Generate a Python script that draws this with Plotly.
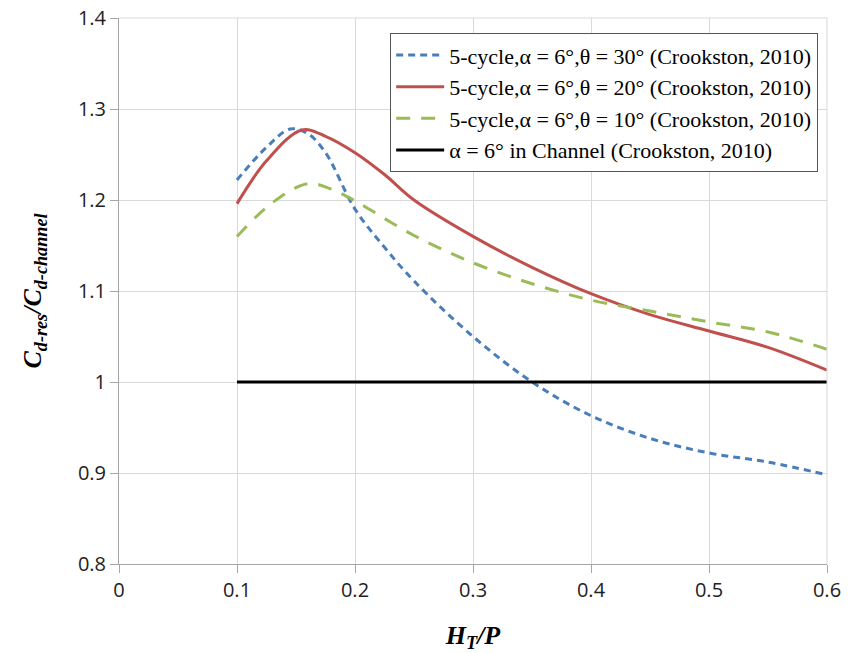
import plotly.graph_objects as go

x30 = [0.10, 0.125, 0.145, 0.16, 0.175, 0.20, 0.225, 0.25, 0.30, 0.35, 0.40, 0.45, 0.50, 0.55, 0.60]
y30 = [1.222, 1.258, 1.278, 1.273, 1.252, 1.190, 1.148, 1.111, 1.050, 1.000, 0.963, 0.938, 0.922, 0.912, 0.898]

x20 = [0.10, 0.125, 0.155, 0.175, 0.20, 0.225, 0.25, 0.30, 0.35, 0.40, 0.45, 0.50, 0.55, 0.60]
y20 = [1.196, 1.243, 1.277, 1.270, 1.252, 1.228, 1.200, 1.160, 1.126, 1.097, 1.074, 1.056, 1.038, 1.013]

x10 = [0.10, 0.13, 0.16, 0.18, 0.20, 0.25, 0.30, 0.35, 0.40, 0.45, 0.50, 0.55, 0.60]
y10 = [1.160, 1.197, 1.218, 1.212, 1.199, 1.161, 1.131, 1.108, 1.090, 1.078, 1.066, 1.055, 1.036]

xch = [0.10, 0.60]
ych = [1.0, 1.0]

names = [
    "5-cycle,α = 6°,θ = 30° (Crookston, 2010)",
    "5-cycle,α = 6°,θ = 20° (Crookston, 2010)",
    "5-cycle,α = 6°,θ = 10° (Crookston, 2010)",
    "α = 6° in Channel (Crookston, 2010)",
]

fig = go.Figure()
fig.add_trace(go.Scatter(x=x30, y=y30, name=names[0], mode="lines",
                         line=dict(color="#4a7ebb", width=3, dash="7px,5px", shape="spline", smoothing=1.0)))
fig.add_trace(go.Scatter(x=x20, y=y20, name=names[1], mode="lines",
                         line=dict(color="#c0504d", width=3, shape="spline", smoothing=1.0)))
fig.add_trace(go.Scatter(x=x10, y=y10, name=names[2], mode="lines",
                         line=dict(color="#9bbb59", width=3, dash="14px,11px", shape="spline", smoothing=1.0)))
fig.add_trace(go.Scatter(x=xch, y=ych, name=names[3], mode="lines",
                         line=dict(color="#000000", width=3)))

tickfont = dict(family="Open Sans, Liberation Sans, sans-serif", size=20, color="#222")

fig.update_layout(
    width=848, height=653,
    margin=dict(l=119, r=21, t=18, b=89, autoexpand=False),
    plot_bgcolor="white", paper_bgcolor="white",
    showlegend=True,
    legend=dict(x=0.383, y=0.972, xanchor="left", yanchor="top",
                bgcolor="white", bordercolor="#555", borderwidth=1,
                font=dict(family="Liberation Serif, Times New Roman, serif", size=22, color="#000"),
                tracegroupgap=0, itemwidth=48),
    xaxis=dict(range=[0, 0.6], dtick=0.1, tick0=0, showgrid=True, gridcolor="#d9d9d9", gridwidth=1,
               showline=True, linecolor="#a6a6a6", linewidth=1, ticks="outside", ticklen=8, tickcolor="#a6a6a6",
               tickfont=tickfont, tickformat="~g", zeroline=False, mirror=False, automargin=False,
               title=dict(text="<b><i>H<sub>T</sub>/P</i></b>", standoff=24,
                          font=dict(family="Liberation Serif, Times New Roman, serif", size=26, color="#000"))),
    yaxis=dict(range=[0.8, 1.4], dtick=0.1, tick0=0.8, showgrid=True, gridcolor="#d9d9d9", gridwidth=1,
               showline=True, linecolor="#a6a6a6", linewidth=1, ticks="outside", ticklen=8, tickcolor="#a6a6a6",
               tickfont=tickfont, tickformat="~g", zeroline=False, automargin=False,
               title=dict(text="<b><i>C<sub>d-res</sub>/C<sub>d-channel</sub></i></b>", standoff=28,
                          font=dict(family="Liberation Serif, Times New Roman, serif", size=26, color="#000"))),
)
fig.add_shape(type="line", xref="paper", yref="paper", x0=1, x1=1, y0=0, y1=1,
              line=dict(color="#d9d9d9", width=1))
fig.add_shape(type="line", xref="paper", yref="paper", x0=0, x1=1, y0=1, y1=1,
              line=dict(color="#d9d9d9", width=1))

fig.write_html("out.html")
